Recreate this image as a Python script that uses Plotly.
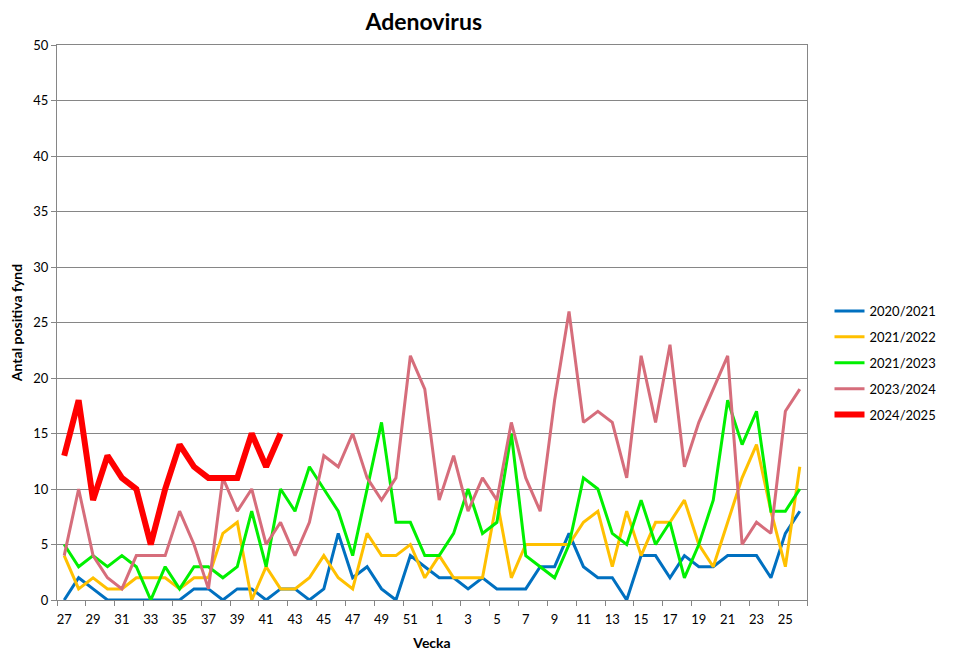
import plotly.graph_objects as go

weeks = [str(w) for w in list(range(27, 53)) + list(range(1, 27))]

s2020_2021 = [0, 2, 1, 0, 0, 0, 0, 0, 0, 1, 1, 0, 1, 1, 0, 1, 1, 0, 1, 6, 2, 3, 1, 0, 4, 3,
              2, 2, 1, 2, 1, 1, 1, 3, 3, 6, 3, 2, 2, 0, 4, 4, 2, 4, 3, 3, 4, 4, 4, 2, 6, 8]
s2021_2022 = [4, 1, 2, 1, 1, 2, 2, 2, 1, 2, 2, 6, 7, 0, 3, 1, 1, 2, 4, 2, 1, 6, 4, 4, 5, 2,
              4, 2, 2, 2, 9, 2, 5, 5, 5, 5, 7, 8, 3, 8, 4, 7, 7, 9, 5, 3, 7, 11, 14, 8, 3, 12]
s2021_2023 = [5, 3, 4, 3, 4, 3, 0, 3, 1, 3, 3, 2, 3, 8, 3, 10, 8, 12, 10, 8, 4, 10, 16, 7, 7, 4,
              4, 6, 10, 6, 7, 15, 4, 3, 2, 5, 11, 10, 6, 5, 9, 5, 7, 2, 5, 9, 18, 14, 17, 8, 8, 10]
s2023_2024 = [4, 10, 4, 2, 1, 4, 4, 4, 8, 5, 1, 11, 8, 10, 5, 7, 4, 7, 13, 12, 15, 11, 9, 11, 22, 19,
              9, 13, 8, 11, 9, 16, 11, 8, 18, 26, 16, 17, 16, 11, 22, 16, 23, 12, 16, 19, 22, 5, 7, 6, 17, 19]
s2024_2025 = [13, 18, 9, 13, 11, 10, 5, 10, 14, 12, 11, 11, 11, 15, 12, 15]

series = [
    ("2020/2021", s2020_2021, "#0070C0", 3),
    ("2021/2022", s2021_2022, "#FFC000", 3),
    ("2021/2023", s2021_2023, "#00F000", 3),
    ("2023/2024", s2023_2024, "#D66D7B", 3),
    ("2024/2025", s2024_2025, "#FF0000", 6),
]

xpos = list(range(len(weeks)))

fig = go.Figure()
for name, vals, color, width in series:
    fig.add_trace(go.Scatter(
        x=xpos[:len(vals)], y=vals, name=name, mode="lines",
        line=dict(color=color, width=width),
        legendgroup=name,
    ))

font_family = "Lato, 'Liberation Sans', sans-serif"

fig.update_layout(
    width=946, height=653,
    margin=dict(l=49, r=145, t=37, b=61),
    paper_bgcolor="white", plot_bgcolor="white",
    font=dict(family=font_family, size=13, color="black"),
    title=dict(text="<b>Adenovirus</b>", x=0.489, xref="paper", xanchor="center",
               y=0.979, yref="container", yanchor="middle", pad=dict(t=0, b=0),
               font=dict(size=23, family=font_family)),
    legend=dict(x=1.03, xanchor="left", y=0.427, yanchor="middle",
                font=dict(size=13), tracegroupgap=6, itemwidth=30),
    showlegend=True,
)

fig.update_xaxes(
    range=[-0.5, len(weeks) - 0.5],
    tickmode="array",
    tickvals=xpos[::2], ticktext=weeks[::2],
    ticks="", showgrid=False,
    showline=True, linecolor="#868686", linewidth=1, mirror=True,
    minor=dict(tickmode="array", tickvals=[i - 0.5 for i in xpos[::2]] + [len(weeks) - 0.5],
               ticks="outside", ticklen=5, tickcolor="#868686", showgrid=False),
    title=dict(text="<b>Vecka</b>", font=dict(size=14), standoff=12),
    tickfont=dict(size=13),
    ticklabelstandoff=7,
    zeroline=False,
    automargin=False,
)

fig.update_yaxes(
    range=[0, 50], dtick=5, tick0=0,
    ticks="outside", ticklen=5, tickcolor="#868686",
    showgrid=True, gridcolor="#868686", gridwidth=1,
    showline=True, linecolor="#868686", linewidth=1, mirror=True,
    title=dict(text="<b>Antal positiva fynd</b>", font=dict(size=14), standoff=10),
    tickfont=dict(size=13),
    zeroline=False,
    automargin=False,
)

fig.write_html("out.html")
